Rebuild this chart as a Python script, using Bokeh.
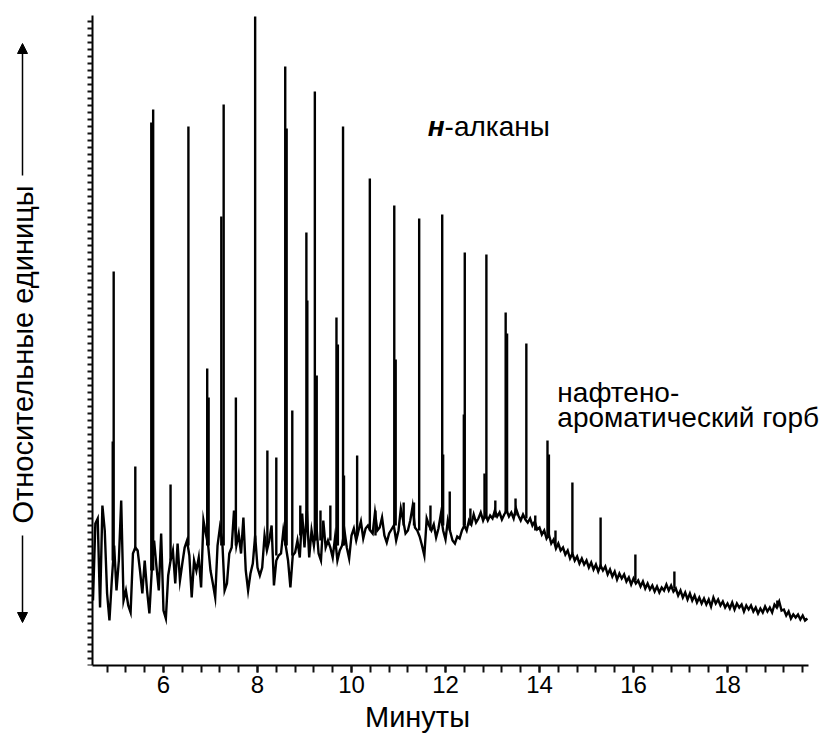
import numpy as np
from bokeh.plotting import figure
from bokeh.models import Range1d, FixedTicker, Label, Arrow, NormalHead
from bokeh.embed import file_html
from bokeh.resources import INLINE

# ---- data ----
# detector signal sampled every 0.05 min starting at 4.50 min (relative units)
T0 = 4.50
DT = 0.05
signal = [
    65, 142, 147, 58, 160, 135, 72, 45, 85, 120,
    75, 105, 165, 65, 75, 60, 53, 112, 118, 115,
    95, 72, 105, 75, 52, 95, 125, 99, 75, 132,
    55, 47, 90, 105, 115, 82, 122, 85, 102, 118,
    125, 110, 68, 105, 95, 108, 78, 145, 132, 120,
    95, 82, 68, 120, 138, 125, 75, 82, 112, 118,
    155, 120, 132, 112, 148, 95, 75, 92, 102, 130,
    98, 90, 98, 130, 115, 125, 140, 80, 105, 110,
    112, 135, 120, 105, 78, 110, 113, 125, 108, 152,
    118, 155, 108, 135, 120, 142, 112, 105, 145, 118,
    125, 118, 108, 128, 105, 115, 120, 135, 118, 107,
    130, 137, 125, 135, 144, 127, 137, 140, 135, 132,
    153, 135, 138, 148, 130, 123, 132, 136, 140, 125,
    135, 157, 145, 132, 135, 145, 159, 138, 135, 129,
    120, 110, 147, 140, 135, 141, 128, 137, 151, 135,
    126, 145, 134, 125, 122, 129, 127, 135, 140, 135,
    145, 141, 151, 143, 147, 153, 145, 151, 145, 150,
    147, 155, 149, 153, 146, 151, 155, 149, 153, 147,
    157, 150, 145, 151, 146, 143, 147, 140, 144, 136,
    138, 131, 135, 127, 131, 122, 126, 117, 122, 115,
    118, 111, 115, 107, 112, 105, 109, 102, 107, 101,
    105, 98, 103, 96, 101, 94, 100, 95, 99, 91,
    96, 89, 94, 86, 92, 87, 91, 84, 88, 81,
    87, 82, 85, 79, 84, 77, 82, 76, 80, 74,
    79, 73, 78, 75, 81, 75, 80, 74, 77, 70,
    75, 68, 73, 66, 72, 65, 70, 63, 68, 62,
    67, 61, 66, 59, 68, 62, 66, 60, 64, 58,
    62, 57, 63, 56, 62, 58, 61, 54, 60, 56,
    60, 54, 58, 52, 57, 53, 59, 54, 58, 53,
    61, 58, 64, 55, 56, 50, 54, 47, 51, 48,
    51, 46, 50, 45, 47,
]

# sharp peaks: retention time (min), apex and foot (relative units)
peak_time = [
    4.92, 4.94, 5.40, 5.74, 5.78, 6.15, 6.53, 6.93, 6.96, 7.23,
    7.28, 7.54, 7.95, 8.21, 8.40, 8.59, 8.62, 8.74, 9.04, 9.06,
    9.22, 9.26, 9.68, 9.71, 9.82, 9.84, 10.12, 10.39, 10.91, 10.94,
    11.11, 11.33, 11.44, 11.93, 11.95, 12.09, 12.39, 12.41, 12.83, 12.87,
    13.28, 13.31, 13.72, 14.17, 14.20, 14.70, 15.30, 16.04, 16.87, 19.06,
    8.91, 9.34, 9.55, 10.51, 11.68, 12.53, 13.06, 13.49, 13.91, 14.34,
]
peak_apex = [
    224, 394, 199, 543, 556, 181, 539, 297, 268, 449,
    561, 268, 649, 215, 208, 599, 537, 255, 433, 365,
    574, 290, 348, 321, 539, 190, 210, 487, 460, 306,
    163, 163, 447, 451, 211, 174, 251, 413, 192, 411,
    353, 332, 322, 225, 211, 183, 148, 111, 94, 65,
    160, 155, 160, 155, 160, 157, 165, 167, 150, 135,
]
peak_foot = [
    105, 105, 115, 95, 95, 105, 120, 120, 120, 120,
    120, 120, 125, 120, 110, 120, 120, 110, 135, 135,
    125, 125, 120, 120, 120, 120, 130, 135, 140, 140,
    140, 140, 135, 140, 140, 135, 140, 140, 147, 147,
    153, 153, 147, 130, 130, 112, 99, 85, 77, 58,
    130, 125, 125, 130, 135, 140, 148, 150, 135, 120,
]

x_tick_values = [6, 8, 10, 12, 14, 16, 18]
x_minor_values = [round(12 + 0.4 * k, 1) for k in range(-18, 20)]
y_minor_values = list(range(0, 651, 7))

time = [round(T0 + DT * i, 2) for i in range(len(signal))]

FONT = "Liberation Sans"
INK = "#111111"

# the frame spans the whole canvas width so that the y title and its arrows
# (drawn left of the y axis) are not clipped; the axes are bounded instead
p = figure(width=822, height=740,
           x_range=Range1d(2.7872, 20.0213), y_range=Range1d(0, 665),
           output_backend="svg", toolbar_location=None,
           min_border_left=12, min_border_right=0,
           min_border_top=0, min_border_bottom=75)
p.grid.visible = False
p.outline_line_color = None
p.background_fill_color = "white"

p.line(time, signal, line_color="black", line_width=2.4, line_join="miter")
p.segment(x0=peak_time, y0=peak_foot, x1=peak_time, y1=peak_apex,
          line_color="black", line_width=2.4)

xa = p.xaxis[0]
xa.bounds = (4.49, 19.72)
xa.ticker = FixedTicker(ticks=x_tick_values, minor_ticks=x_minor_values)
xa.axis_line_width = 2
xa.axis_line_color = "black"
xa.major_tick_in = 0
xa.major_tick_out = 7
xa.minor_tick_in = 0
xa.minor_tick_out = 7
xa.major_tick_line_width = 2
xa.minor_tick_line_width = 2
xa.major_tick_line_color = INK
xa.minor_tick_line_color = INK
xa.major_label_text_font = FONT
xa.major_label_text_font_size = "24px"
xa.major_label_text_color = "black"
xa.major_label_standoff = 3
xa.axis_label = "Минуты"
xa.axis_label_text_font = FONT
xa.axis_label_text_font_size = "29px"
xa.axis_label_text_font_style = "normal"
xa.axis_label_text_color = "black"
xa.axis_label_standoff = 5

ya = p.yaxis[0]
ya.fixed_location = 4.49
ya.bounds = (0, 650)
ya.ticker = FixedTicker(ticks=[], minor_ticks=y_minor_values)
ya.axis_line_width = 2
ya.axis_line_color = "black"
ya.major_tick_in = 0
ya.major_tick_out = 4
ya.minor_tick_in = 0
ya.minor_tick_out = 5
ya.minor_tick_line_width = 2
ya.minor_tick_line_color = INK

# y-axis title with arrows on both sides
p.add_layout(Label(x=3.0, y=311, text="Относительные единицы",
                   angle=90, angle_units="deg",
                   text_align="center", text_baseline="middle",
                   text_font=FONT, text_font_size="29px", text_color="black"))
p.add_layout(Arrow(x_start=3.0, y_start=130, x_end=3.0, y_end=43,
                   line_width=1.5, line_color="black",
                   end=NormalHead(size=10, fill_color="black", line_color="black")))
p.add_layout(Arrow(x_start=3.0, y_start=490, x_end=3.0, y_end=622,
                   line_width=1.5, line_color="black",
                   end=NormalHead(size=10, fill_color="black", line_color="black")))

# annotations
p.add_layout(Label(x=11.98, y=539, text="н", text_align="right",
                   text_baseline="alphabetic", text_font=FONT,
                   text_font_size="28px", text_font_style="bold italic",
                   text_color="black"))
p.add_layout(Label(x=11.98, y=539, text="-алканы", text_align="left",
                   text_baseline="alphabetic", text_font=FONT,
                   text_font_size="28px", text_color="black"))
p.add_layout(Label(x=14.38, y=273, text="нафтено-", text_align="left",
                   text_baseline="alphabetic", text_font=FONT,
                   text_font_size="28px", text_color="black"))
p.add_layout(Label(x=14.38, y=248, text="ароматический горб", text_align="left",
                   text_baseline="alphabetic", text_font=FONT,
                   text_font_size="28px", text_color="black"))

open("out.html", "w").write(file_html(p, INLINE))
